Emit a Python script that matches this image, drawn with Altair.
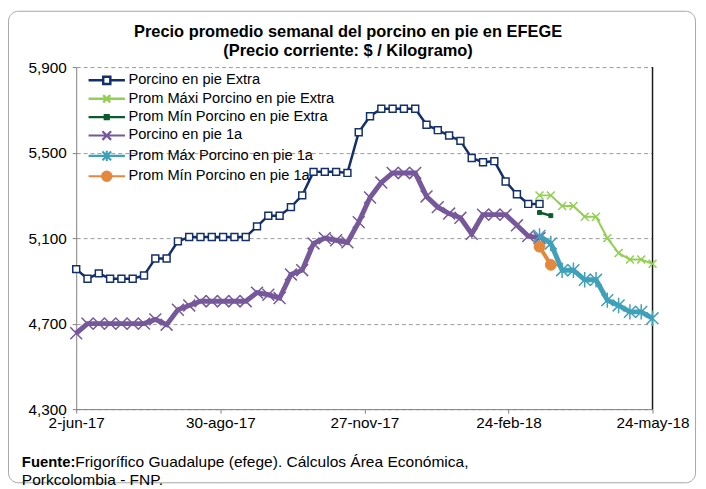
import json
import altair as alt
import pandas as pd

# ---------------- data ----------------
fechas = ["2-jun-17", "30-ago-17", "27-nov-17", "24-feb-18", "24-may-18"]
n_semanas = 52

series = [
    "Porcino en pie Extra",
    "Prom Máxi Porcino en pie Extra",
    "Prom Mín Porcino en pie Extra",
    "Porcino en pie 1a",
    "Prom Máx Porcino en pie 1a",
    "Prom Mín Porcino en pie 1a",
]

extra = [4955, 4910, 4935, 4910, 4910, 4910, 4925, 5005, 5005, 5085,
         5105, 5105, 5105, 5105, 5105, 5105, 5155, 5205, 5205, 5245,
         5300, 5410, 5410, 5410, 5405, 5595, 5670, 5705, 5705, 5705,
         5705, 5630, 5605, 5580, 5555, 5475, 5455, 5460, 5365, 5305,
         5260, 5260]
max_extra = [5300, 5300, 5250, 5250, 5200, 5200, 5100, 5030, 5000, 5000, 4980]
min_extra = [5220, 5205]
primera = [4655, 4700, 4700, 4700, 4700, 4700, 4700, 4720, 4695, 4765,
           4785, 4805, 4805, 4805, 4805, 4805, 4845, 4835, 4820, 4930,
           4950, 5075, 5100, 5090, 5080, 5175, 5290, 5360, 5405, 5405,
           5405, 5295, 5245, 5215, 5195, 5120, 5210, 5210, 5210, 5160,
           5110, 5100]
max_primera = [5110, 5075, 4950, 4950, 4905, 4905, 4810, 4785, 4755, 4755, 4725]
min_primera = [5060, 4975]

inicio = [0, 41, 41, 0, 41, 41]   # first week index of each series
valores = [extra, max_extra, min_extra, primera, max_primera, min_primera]

titulo = ["Precio promedio semanal del porcino en pie en EFEGE",
          "(Precio corriente: $ / Kilogramo)"]
fuente = ["Fuente:", "Frigorífico Guadalupe (efege). Cálculos Área Económica,",
          "Porkcolombia  - FNP."]

# ---------------- styles ----------------
colores = ["#132f6c", "#92d050", "#0a5c2c", "#76589b", "#3fa0ba", "#e4883e"]
anchos = [2.5, 2, 2.5, 5, 5, 4]
marcas = [
    "M-1,-1H1V1H-1Z",
    "M-1,-1L1,1M-1,1L1,-1",
    "M-1,-1H1V1H-1Z",
    "M-1,-1L1,1M-1,1L1,-1",
    "M-1,-1L1,1M-1,1L1,-1M0,-1.3V1.3",
    "M-1,0A1,1 0 1,0 1,0A1,1 0 1,0 -1,0Z",
]
tam_marca = [49, 64, 16, 144, 144, 121]
borde_marca = [1.5, 1.5, 1, 1.5, 1.5, 1]
relleno = ["#ffffff", "transparent", "#0a5c2c", "transparent", "transparent", "#e4883e"]
ley_simbolos = [
    "M-4.6,0H-0.9M0.9,0H4.6M-0.9,-0.9H0.9V0.9H-0.9Z",
    "M-4.6,0H4.6M-0.9,-0.9L0.9,0.9M-0.9,0.9L0.9,-0.9",
    "M-4.6,0H4.6M-0.5,-0.5H0.5V0.5H-0.5Z",
    "M-4.6,0H4.6M-1.1,-1.1L1.1,1.1M-1.1,1.1L1.1,-1.1",
    "M-4.6,0H4.6M-1.1,-1.1L1.1,1.1M-1.1,1.1L1.1,-1.1M0,-1.3V1.3",
    "M-4.6,0H4.6M-1.2,0A1.2,1.2 0 1,0 1.2,0A1.2,1.2 0 1,0 -1.2,0Z",
]

rows = []
for s, i0, vals in zip(series, inicio, valores):
    for k, v in enumerate(vals):
        rows.append({"serie": s, "i": i0 + k, "v": v})
df = pd.DataFrame(rows)

W, H = 583, 346
paso = (n_semanas - 1) / (len(fechas) - 1)
tick_pos = [paso * k for k in range(len(fechas))]
label_expr = f"{json.dumps(fechas)}[round(datum.value / {paso})]"

FONT = "Liberation Sans"

x_enc = alt.X(
    "i:Q",
    scale=alt.Scale(domain=[0, n_semanas - 1], nice=False, zero=False),
    axis=alt.Axis(values=tick_pos, labelExpr=label_expr, title=None, grid=False,
                  domainColor="#808080", tickColor="#808080", tickSize=4,
                  labelFontSize=15.5, labelFont=FONT, labelColor="#000000",
                  labelPadding=3, labelFlush=False, labelOverlap=False),
)
y_enc = alt.Y(
    "v:Q",
    scale=alt.Scale(domain=[4300, 5900], nice=False, zero=False),
    axis=alt.Axis(values=[4300, 4700, 5100, 5500, 5900], format=",.0f", title=None,
                  grid=True, gridDash=[4, 3], gridColor="#9a9a9a", gridWidth=1,
                  domainColor="#808080", tickColor="#808080", tickSize=4,
                  labelFontSize=15.5, labelFont=FONT, labelColor="#000000",
                  labelPadding=6),
)

base = alt.Chart(df)
layers = []
for k, s in enumerate(series):
    sub = base.transform_filter(alt.datum.serie == s)
    layers.append(sub.mark_line(color=colores[k], strokeWidth=anchos[k]).encode(x=x_enc, y=y_enc))
    layers.append(
        sub.mark_point(shape=marcas[k], size=tam_marca[k], stroke=colores[k],
                       strokeWidth=borde_marca[k], fill=relleno[k], opacity=1,
                       fillOpacity=1, strokeOpacity=1).encode(x=x_enc, y=y_enc)
    )

leyenda = base.mark_point(opacity=0).encode(
    x=x_enc,
    y=y_enc,
    shape=alt.Shape("serie:N", title=None, scale=alt.Scale(domain=series, range=ley_simbolos)),
    stroke=alt.Stroke("serie:N", title=None, scale=alt.Scale(domain=series, range=colores)),
    fill=alt.Fill("serie:N", title=None, scale=alt.Scale(domain=series, range=relleno)),
    strokeWidth=alt.StrokeWidth("serie:N", title=None, scale=alt.Scale(domain=series, range=anchos)),
)

uno = alt.Chart(pd.DataFrame({"a": [0]}))
marco = uno.mark_rect(fill="transparent", stroke="#a6a6a6", strokeWidth=1, cornerRadius=10).encode(
    x=alt.value(-68.5), x2=alt.value(626.5), y=alt.value(-56.5), y2=alt.value(420.5))
borde_der = uno.mark_rule(color="#1a1a1a", strokeWidth=1.5).encode(
    x=alt.value(W), y=alt.value(0), y2=alt.value(H))
tit_1 = uno.mark_text(text=titulo[0], fontWeight="bold", align="center", baseline="middle",
                      fontSize=16.6, font=FONT, color="#000000").encode(
    x=alt.value(275), y=alt.value(-35))
tit_2 = uno.mark_text(text=titulo[1], fontWeight="bold", align="center", baseline="middle",
                      fontSize=16.6, font=FONT, color="#000000").encode(
    x=alt.value(275), y=alt.value(-16.5))
fuente_b = uno.mark_text(text=fuente[0], fontWeight="bold", align="left", baseline="middle",
                         fontSize=15, font=FONT, color="#000000").encode(
    x=alt.value(-55), y=alt.value(400))
fuente_1 = uno.mark_text(text=fuente[1], align="left", baseline="middle", fontSize=15.7,
                         font=FONT, color="#000000").encode(x=alt.value(-1), y=alt.value(400))
fuente_2 = uno.mark_text(text=fuente[2], align="left", baseline="middle",
                         fontSize=15.7, font=FONT, color="#000000").encode(
    x=alt.value(-55), y=alt.value(418))

chart = alt.layer(marco, borde_der, *layers, leyenda, tit_1, tit_2,
                  fuente_b, fuente_1, fuente_2).properties(
    width=W,
    height=H,
    autosize=alt.AutoSizeParams(type="none"),
    padding={"left": 69, "top": 57, "right": 46, "bottom": 78},
).configure_view(stroke=None).configure_legend(
    orient="none", legendX=23.5, legendY=6, symbolSize=64, labelFontSize=14.8,
    labelFont=FONT, labelColor="#000000", labelOffset=14.5, padding=0,
    rowPadding=1.6, symbolOffset=0, symbolOpacity=1, labelLimit=400,
)

chart.save("out.html", embed_options={"renderer": "svg", "actions": False})
